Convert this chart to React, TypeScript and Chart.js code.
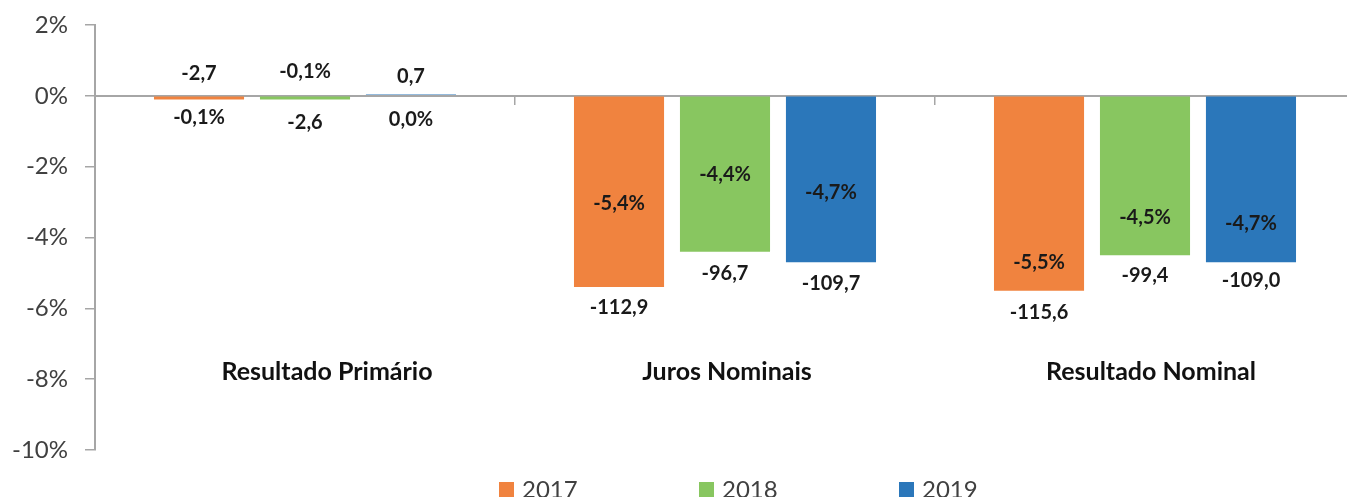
import React, { useEffect, useRef } from "react";
import { Chart, registerables } from "chart.js";

Chart.register(...registerables);

// ---- data ----
const categories = ["Resultado Primário", "Juros Nominais", "Resultado Nominal"];
const years = ["2017", "2018", "2019"];
const pct2017 = [-0.1, -5.4, -5.5];
const pct2018 = [-0.1, -4.4, -4.5];
const pct2019 = [0.04, -4.7, -4.7];
const brl2017 = [-2.7, -112.9, -115.6];
const brl2018 = [-2.6, -96.7, -99.4];
const brl2019 = [0.7, -109.7, -109.0];
const yTicks = [2, 0, -2, -4, -6, -8, -10];

// ---- layout (label anchor positions in axis units) ----
const pctLabelAt = [
  [-0.61, -3.05, -4.71],
  [0.68, -2.23, -3.44],
  [-0.66, -2.74, -3.61],
];
const brlLabelAt = [
  [0.63, -5.99, -6.13],
  [-0.75, -5.03, -5.08],
  [0.54, -5.31, -5.22],
];
const categoryLabelAt = -7.8;
const categoryLabelDx = [22, 2, 6];
const colors = ["#F0833F", "#88C660", "#2B77BA"];

const fmt = (v: number, d: number) => v.toFixed(d).replace(".", ",");

const labelsPlugin = {
  id: "customLabels",
  afterDatasetsDraw(chart: any) {
    const ctx = chart.ctx;
    const y = chart.scales.y;
    const x = chart.scales.x;
    const brl = [brl2017, brl2018, brl2019];
    ctx.save();
    ctx.textAlign = "center";
    ctx.textBaseline = "middle";
    ctx.fillStyle = "#1a1a1a";
    ctx.font = "bold 20px Lato";
    chart.data.datasets.forEach((ds: any, i: number) => {
      const meta = chart.getDatasetMeta(i);
      meta.data.forEach((bar: any, j: number) => {
        const v = ds.data[j];
        ctx.fillText(fmt(v, 1) + "%", bar.x, y.getPixelForValue(pctLabelAt[i][j]));
        ctx.fillText(fmt(brl[i][j], 1), bar.x, y.getPixelForValue(brlLabelAt[i][j]));
      });
    });
    // category labels
    ctx.font = "bold 25px Lato";
    ctx.fillStyle = "#111111";
    categories.forEach((c, j) => {
      ctx.fillText(c, x.getPixelForValue(j) + categoryLabelDx[j], y.getPixelForValue(categoryLabelAt));
    });
    // legend
    ctx.font = "24px Lato";
    ctx.textAlign = "left";
    ctx.textBaseline = "alphabetic";
    const step = 200;
    const center = 738;
    const startX = center - step - 39;
    years.forEach((yr, i) => {
      const bx = startX + i * step;
      ctx.fillStyle = colors[i];
      ctx.fillRect(bx, 482, 15, 15);
      ctx.fillStyle = "#404040";
      ctx.fillText(yr, bx + 23, 498);
    });
    ctx.restore();
  },
};

export default function App() {
  const ref = useRef<HTMLCanvasElement | null>(null);
  useEffect(() => {
    if (!ref.current) return;
    const chart = new Chart(ref.current, {
      type: "bar",
      data: {
        labels: categories,
        datasets: [
          { label: years[0], data: pct2017, backgroundColor: colors[0] },
          { label: years[1], data: pct2018, backgroundColor: colors[1] },
          { label: years[2], data: pct2019, backgroundColor: colors[2] },
        ],
      },
      options: {
        animation: false,
        responsive: false,
        maintainAspectRatio: false,
        layout: { padding: { top: 25, bottom: 47, right: 5, left: 0 } },
        datasets: { bar: { barPercentage: 0.85, categoryPercentage: 0.757 } },
        plugins: { legend: { display: false }, tooltip: { enabled: false } },
        scales: {
          x: {
            position: { y: 0 } as any,
            ticks: { display: false },
            grid: {
              offset: true,
              drawOnChartArea: false,
              drawTicks: true,
              tickLength: 8,
              color: "#a6a6a6",
              lineWidth: 1.5,
            },
            border: { display: true, color: "#a6a6a6", width: 2 },
          },
          y: {
            min: -10,
            max: 2,
            afterBuildTicks: (s: any) => {
              s.ticks = yTicks.map((v) => ({ value: v }));
            },
            afterFit: (s: any) => {
              s.width = 95;
              s.paddingTop = 0;
              s.paddingBottom = 0;
            },
            ticks: {
              padding: 17,
              color: "#404040",
              font: { family: "Lato", size: 24 },
              callback: (v: any) => `${v}%`,
            },
            grid: {
              drawOnChartArea: false,
              drawTicks: true,
              tickLength: 10,
              color: "#a6a6a6",
              lineWidth: 1.5,
            },
            border: { display: true, color: "#a6a6a6", width: 2 },
          },
        },
      },
      plugins: [labelsPlugin],
    });
    return () => chart.destroy();
  }, []);
  return (
    <div style={{ position: "fixed", left: 0, top: 0, width: 1347, height: 497, overflow: "hidden", background: "#fff" }}>
      <canvas ref={ref} width={1360} height={497} style={{ display: "block", width: 1360, height: 497 }} />
    </div>
  );
}
